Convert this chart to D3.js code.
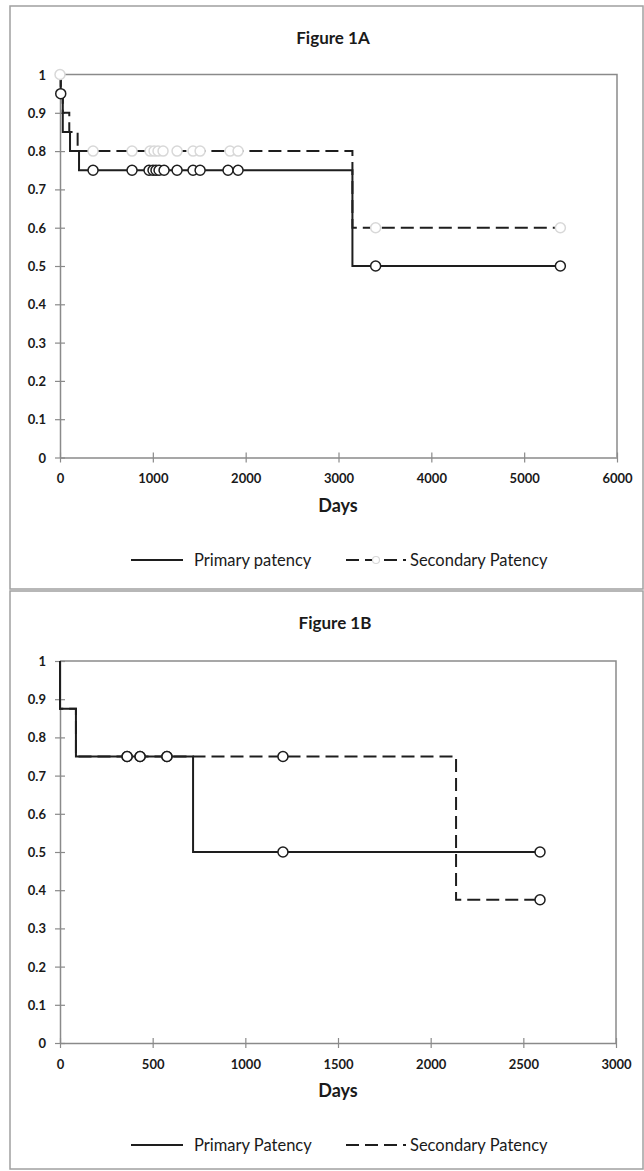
<!DOCTYPE html>
<html>
<head>
<meta charset="utf-8">
<script src="https://cdn.jsdelivr.net/npm/d3@7/dist/d3.min.js"></script>
<style>
  html, body { margin: 0; padding: 0; background: #fff; }
  svg { display: block; }
  text { font-family: Lato, "Open Sans", "DejaVu Sans", sans-serif; fill: #1a1a1a; }
</style>
</head>
<body>
<svg id="chart" width="644" height="1171"></svg>
<script>
// ---------- Data ----------
// Figure 1A
const primaryA_times = [0, 8, 30, 108, 205, 3150];
const primaryA_surv  = [1, 0.95, 0.85, 0.80, 0.75, 0.50];
const primaryA_end   = 5390;
const primaryA_cens_days = [8, 356, 776, 959, 1002, 1034, 1067, 1121, 1261, 1433, 1509, 1810, 1918, 3400, 5390];
const primaryA_cens_vals = [0.95, 0.75, 0.75, 0.75, 0.75, 0.75, 0.75, 0.75, 0.75, 0.75, 0.75, 0.75, 0.75, 0.5, 0.5];

const secondaryA_times = [0, 8, 30, 100, 190, 3150];
const secondaryA_surv  = [1, 0.95, 0.90, 0.85, 0.80, 0.60];
const secondaryA_end   = 5390;
const secondaryA_cens_days = [0, 356, 776, 970, 1013, 1056, 1110, 1261, 1433, 1509, 1832, 1918, 3400, 5390];
const secondaryA_cens_vals = [1, 0.8, 0.8, 0.8, 0.8, 0.8, 0.8, 0.8, 0.8, 0.8, 0.8, 0.8, 0.6, 0.6];

const xTicksA = [0, 1000, 2000, 3000, 4000, 5000, 6000];

// Figure 1B
const primaryB_times = [0, 0, 86, 718];
const primaryB_surv  = [1, 0.875, 0.75, 0.5];
const primaryB_end   = 2590;
const primaryB_cens_days = [362, 432, 577, 1203, 2590];
const primaryB_cens_vals = [0.75, 0.75, 0.75, 0.5, 0.5];

const secondaryB_times = [0, 0, 86, 2137];
const secondaryB_surv  = [1, 0.875, 0.75, 0.375];
const secondaryB_end   = 2590;
const secondaryB_cens_days = [362, 432, 577, 1203, 2590];
const secondaryB_cens_vals = [0.75, 0.75, 0.75, 0.75, 0.375];

const xTicksB = [0, 500, 1000, 1500, 2000, 2500, 3000];
const yTicks = [0, 0.1, 0.2, 0.3, 0.4, 0.5, 0.6, 0.7, 0.8, 0.9, 1];

// ---------- Drawing ----------
const svg = d3.select("#chart");
const AXIS = "#8a8a8a";
const INK = "#1e1e1e";

function stepPoints(times, surv, end) {
  const pts = times.map((t, i) => [t, surv[i]]);
  pts.push([end, surv[surv.length - 1]]);
  return pts;
}

function drawPanel(cfg) {
  const g = svg.append("g");
  g.append("rect")
    .attr("x", cfg.box[0]).attr("y", cfg.box[1])
    .attr("width", cfg.box[2]).attr("height", cfg.box[3])
    .attr("fill", "none").attr("stroke", "#a0a0a0").attr("stroke-width", 1.5);

  g.append("text")
    .attr("x", cfg.titleX).attr("y", cfg.titleY)
    .attr("text-anchor", "middle").attr("dominant-baseline", "central")
    .attr("font-size", 17).attr("font-weight", 700)
    .text(cfg.title);

  const x = d3.scaleLinear().domain([0, cfg.xMax]).range([cfg.plot.left, cfg.plot.right]);
  const y = d3.scaleLinear().domain([0, 1]).range([cfg.plot.bottom, cfg.plot.top]);

  g.append("path")
    .attr("d", `M${x(0)},${y(1)}H${x(cfg.xMax)}V${y(0)}`)
    .attr("fill", "none").attr("stroke", AXIS).attr("stroke-width", 1.5);

  const xAxis = d3.axisBottom(x).tickValues(cfg.xTicks).tickSize(0).tickPadding(0).tickFormat(d3.format("d"));
  const gx = g.append("g").attr("transform", `translate(0,${y(0)})`).call(xAxis);
  gx.select(".domain").attr("stroke", AXIS).attr("stroke-width", 1.5);
  gx.selectAll(".tick line").remove();
  gx.selectAll(".tick").append("line")
    .attr("y1", -5).attr("y2", 5).attr("stroke", AXIS).attr("stroke-width", 1.2);
  gx.selectAll(".tick text")
    .attr("y", cfg.xLabelDy).attr("dy", "0.35em")
    .attr("font-size", 13).attr("font-weight", 700)
    .attr("font-family", "Lato, sans-serif").attr("fill", "#1e1e1e");

  const yAxis = d3.axisLeft(y).tickValues(yTicks).tickSize(0).tickPadding(0).tickFormat(d => d3.format("~g")(d));
  const gy = g.append("g").attr("transform", `translate(${x(0)},0)`).call(yAxis);
  gy.select(".domain").attr("stroke", AXIS).attr("stroke-width", 1.5);
  gy.selectAll(".tick line").remove();
  gy.selectAll(".tick").append("line")
    .attr("x1", -5).attr("x2", 5).attr("stroke", AXIS).attr("stroke-width", 1.2);
  gy.selectAll(".tick text")
    .attr("x", -14).attr("dy", "0.35em")
    .attr("font-size", 13).attr("font-weight", 700)
    .attr("font-family", "Lato, sans-serif").attr("fill", "#1e1e1e");

  g.append("text")
    .attr("x", cfg.daysX).attr("y", cfg.daysY)
    .attr("text-anchor", "middle").attr("dominant-baseline", "central")
    .attr("font-size", 18).attr("font-weight", 700)
    .text("Days");

  const line = d3.line().x(d => x(d[0])).y(d => y(d[1])).curve(d3.curveStepAfter);

  g.append("path")
    .datum(stepPoints(cfg.pTimes, cfg.pSurv, cfg.pEnd))
    .attr("d", line).attr("fill", "none").attr("stroke", INK).attr("stroke-width", 2);
  g.append("path")
    .datum(stepPoints(cfg.sTimes, cfg.sSurv, cfg.sEnd))
    .attr("d", line).attr("fill", "none").attr("stroke", INK).attr("stroke-width", 2)
    .attr("stroke-dasharray", "13,6");

  g.selectAll(".sc").data(cfg.sCensDays.map((d, i) => [d, cfg.sCensVals[i]]))
    .join("circle").attr("class", "sc")
    .attr("cx", d => x(d[0])).attr("cy", d => y(d[1])).attr("r", 5)
    .attr("fill", "#fff").attr("stroke", cfg.sMarkerColor).attr("stroke-width", 1.5);
  g.selectAll(".pc").data(cfg.pCensDays.map((d, i) => [d, cfg.pCensVals[i]]))
    .join("circle").attr("class", "pc")
    .attr("cx", d => x(d[0])).attr("cy", d => y(d[1])).attr("r", 5)
    .attr("fill", "#fff").attr("stroke", INK).attr("stroke-width", 1.5);

  const ly = cfg.legendY;
  g.append("line").attr("x1", 131).attr("x2", 183).attr("y1", ly).attr("y2", ly)
    .attr("stroke", INK).attr("stroke-width", 2);
  g.append("text").attr("x", 194).attr("y", ly).attr("dominant-baseline", "central")
    .attr("font-size", 16.5).text(cfg.pLabel);
  g.append("line").attr("x1", 346).attr("x2", 406).attr("y1", ly).attr("y2", ly)
    .attr("stroke", INK).attr("stroke-width", 2).attr("stroke-dasharray", "13,6");
  if (cfg.legendMarker) {
    g.append("circle").attr("cx", 376).attr("cy", ly).attr("r", 3.5)
      .attr("fill", "#fff").attr("stroke", cfg.sMarkerColor).attr("stroke-width", 1.2);
  }
  g.append("text").attr("x", 410).attr("y", ly).attr("dominant-baseline", "central")
    .attr("font-size", 16.5).text(cfg.sLabel);
}

drawPanel({
  box: [10, 6, 633, 583],
  title: "Figure 1A", titleX: 333, titleY: 37,
  xMax: 6000, xTicks: xTicksA,
  plot: { left: 60, right: 617, top: 74.5, bottom: 457.5 },
  xLabelDy: 21, daysX: 338, daysY: 505, legendY: 560,
  pTimes: primaryA_times, pSurv: primaryA_surv, pEnd: primaryA_end,
  pCensDays: primaryA_cens_days, pCensVals: primaryA_cens_vals,
  sTimes: secondaryA_times, sSurv: secondaryA_surv, sEnd: secondaryA_end,
  sCensDays: secondaryA_cens_days, sCensVals: secondaryA_cens_vals,
  sMarkerColor: "#d8d8d8", legendMarker: true,
  pLabel: "Primary patency", sLabel: "Secondary Patency"
});

drawPanel({
  box: [10, 591, 633, 578],
  title: "Figure 1B", titleX: 335, titleY: 622,
  xMax: 3000, xTicks: xTicksB,
  plot: { left: 60, right: 616, top: 661, bottom: 1043 },
  xLabelDy: 21, daysX: 338, daysY: 1090, legendY: 1145,
  pTimes: primaryB_times, pSurv: primaryB_surv, pEnd: primaryB_end,
  pCensDays: primaryB_cens_days, pCensVals: primaryB_cens_vals,
  sTimes: secondaryB_times, sSurv: secondaryB_surv, sEnd: secondaryB_end,
  sCensDays: secondaryB_cens_days, sCensVals: secondaryB_cens_vals,
  sMarkerColor: INK, legendMarker: false,
  pLabel: "Primary Patency", sLabel: "Secondary Patency"
});
</script>
</body>
</html>
